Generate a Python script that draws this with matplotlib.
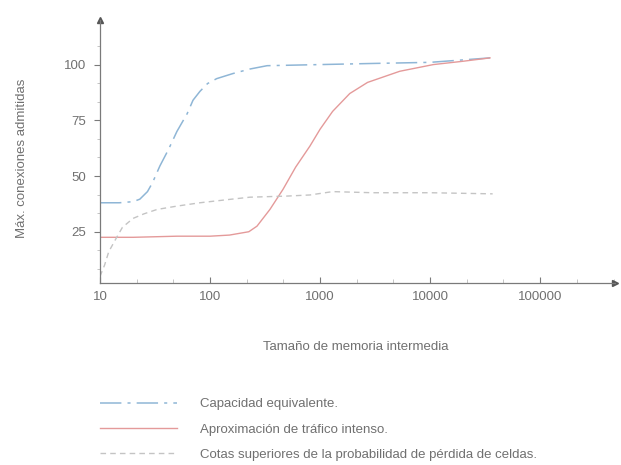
import matplotlib
matplotlib.use("Agg")
import matplotlib.pyplot as plt
from matplotlib.ticker import LogLocator, FixedLocator, NullFormatter
from matplotlib.lines import Line2D

plt.rcParams['font.family'] = ['Liberation Sans', 'DejaVu Sans']

# Data
cap_x = [10, 15, 20, 23, 27, 30, 35, 42, 50, 62, 70, 81, 95, 115, 162, 230, 330, 1000, 3000, 10000, 35000]
cap_y = [38, 38, 38.5, 39.6, 43, 47, 54.5, 62, 70, 78, 84, 88, 91.5, 93.7, 96, 98, 99.5, 100, 100.5, 101, 103]

tra_x = [10, 20, 50, 100, 150, 225, 267, 350, 460, 600, 810, 1000, 1300, 1860, 2700, 5300, 10700, 20000, 35000]
tra_y = [22.5, 22.5, 23, 23, 23.5, 25, 27.5, 35, 44, 54, 63.5, 71, 79, 87, 92, 97, 100, 101.5, 103]

cot_x = [10, 11, 12, 14, 16, 20, 25, 33, 50, 81, 150, 230, 500, 810, 1300, 3000, 10000, 37000]
cot_y = [5, 10, 16, 22, 27, 31, 33, 35, 36.5, 38, 39.5, 40.5, 41, 41.5, 43, 42.5, 42.5, 42]

x_ticks = [10, 100, 1000, 10000, 100000]
x_ticklabels = ["10", "100", "1000", "10000", "100000"]
y_ticks = [25, 50, 75, 100]
y_ticklabels = ["25", "50", "75", "100"]

labels = ["Capacidad equivalente.",
          "Aproximación de tráfico intenso.",
          "Cotas superiores de la probabilidad de pérdida de celdas."]

c_blue = "#8fb6d6"
c_red = "#e49a9a"
c_gray = "#c4c4c4"
c_axis = "#7a7a7a"
c_text = "#707070"
fs = 9.5

fig = plt.figure(figsize=(6.21, 4.65), dpi=100)
ax = fig.add_axes([100/621, 1-283/465, (615-100)/621, (283-20)/465])

ax.plot(cap_x, cap_y, color=c_blue, lw=1.1, dashes=(14, 4, 2, 4))
ax.plot(tra_x, tra_y, color=c_red, lw=1.0)
ax.plot(cot_x, cot_y, color=c_gray, lw=1.0, dashes=(4, 3))

ax.set_xscale('log')
ax.set_xlim(10, 10**5.68)
ax.set_ylim(2, 120)

ax.xaxis.set_major_locator(FixedLocator(x_ticks))
ax.set_xticklabels(x_ticklabels)
ax.xaxis.set_minor_locator(LogLocator(base=10, subs=(2.154, 4.642)))
ax.xaxis.set_minor_formatter(NullFormatter())
ax.set_yticks(y_ticks)
ax.set_yticklabels(y_ticklabels)
ax.yaxis.set_minor_locator(FixedLocator([8.33, 16.67, 33.33, 41.67, 58.33, 66.67, 83.33, 91.67, 108.33]))

for s in ['top', 'right']:
    ax.spines[s].set_visible(False)
for s in ['left', 'bottom']:
    ax.spines[s].set_color(c_axis)
    ax.spines[s].set_linewidth(0.9)

ax.tick_params(axis='x', which='major', direction='in', length=4, colors=c_axis,
               labelcolor=c_text, labelsize=fs, pad=6)
ax.tick_params(axis='x', which='minor', direction='in', length=3, colors="#bbbbbb")
ax.tick_params(axis='y', which='major', direction='out', length=4, colors=c_axis,
               labelcolor=c_text, labelsize=fs, pad=6)
ax.tick_params(axis='y', which='minor', direction='out', length=2, colors="#bbbbbb")

# axis arrows
ax.plot([0], [1], marker='^', color='#555555', markersize=4, transform=ax.transAxes, clip_on=False)
ax.plot([1], [0], marker='>', color='#555555', markersize=4, transform=ax.transAxes, clip_on=False)

fig.text(22/621, 1-158/465, "Máx. conexiones admitidas", rotation=90, ha='center', va='center',
         fontsize=fs, color=c_text)
fig.text(356/621, 1-347/465, "Tamaño de memoria intermedia", ha='center', va='center',
         fontsize=fs, color=c_text)

handles = [Line2D([], [], color=c_blue, lw=1.1, dashes=(14, 4, 2, 4)),
           Line2D([], [], color=c_red, lw=1.0),
           Line2D([], [], color=c_gray, lw=1.0, dashes=(4, 3))]
fig.legend(handles, labels, loc='upper left', bbox_to_anchor=(100/621, 1-398/465),
           frameon=False, fontsize=fs, handlelength=5.8, handletextpad=1.75,
           labelspacing=1.0, labelcolor=c_text, borderpad=0, borderaxespad=0)

fig.savefig("out.png", dpi=100)
